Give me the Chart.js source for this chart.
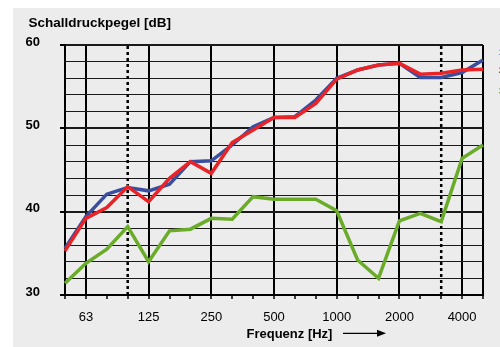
<!DOCTYPE html>
<html>
<head>
<meta charset="utf-8">
<script src="https://cdn.jsdelivr.net/npm/chart.js@4"></script>
<style>
  html, body { margin: 0; padding: 0; background: #ffffff; }
  #wrap { width: 500px; height: 347px; position: relative; }
</style>
</head>
<body>
<div id="wrap"><canvas id="c" width="500" height="347"></canvas></div>
<script>
// Third-octave band centre frequencies (Hz)
const freqLabels = ['50','63','80','100','125','160','200','250','315','400','500','630','800','1000','1250','1600','2000','2500','3150','4000','5000'];
// Labelled octave bands on the x axis
const octaveLabels = ['63','125','250','500','1000','2000','4000'];
// Dotted marker lines
const dottedFreqs = ['100','3150'];
// Y-axis labelled values
const yLabelValues = [30, 40, 50, 60];

// Series values (dB)
const seriesBlue  = [35.6,39.4,42.1,42.9,42.5,43.3,46.0,46.1,48.0,50.2,51.3,51.4,53.4,56.0,57.0,57.6,57.8,56.1,56.1,56.7,58.2];
const seriesRed   = [35.3,39.2,40.5,43.0,41.2,44.0,46.0,44.6,48.3,49.8,51.3,51.3,53.0,55.9,57.0,57.6,57.8,56.5,56.6,57.0,57.1];
const seriesGreen = [31.4,33.8,35.5,38.2,34.0,37.7,37.9,39.2,39.1,41.8,41.5,41.5,41.5,40.1,34.2,32.0,38.9,39.8,38.8,46.4,48.0];

// Legend fragments at the right edge (clipped)
const legendNames = ['1','2','3'];

const COL_BLUE = 'rgb(58,78,160)';
const COL_RED = 'rgb(232,36,40)';
const COL_GREEN = 'rgb(106,172,42)';
const FONT = '"Liberation Sans", Arial, sans-serif';

const decor = {
  id: 'decor',
  beforeDraw(chart) {
    const ctx = chart.ctx;
    ctx.save();
    ctx.fillStyle = '#ffffff';
    ctx.fillRect(0, 0, chart.width, chart.height);
    ctx.fillStyle = 'rgb(235,236,235)';
    ctx.fillRect(13, 8, chart.width - 13, chart.height - 8);
    ctx.restore();
  },
  beforeDatasetsDraw(chart) {
    const ctx = chart.ctx;
    const xs = chart.scales.x;
    const area = chart.chartArea;
    ctx.save();
    ctx.strokeStyle = '#000';
    ctx.lineWidth = 2.5;
    ctx.setLineDash([3, 3]);
    dottedFreqs.forEach(f => {
      const idx = freqLabels.indexOf(f);
      const px = xs.getPixelForValue(idx);
      ctx.beginPath();
      ctx.moveTo(px, area.top + 1);
      ctx.lineTo(px, area.bottom);
      ctx.stroke();
    });
    ctx.restore();
  },
  afterDraw(chart) {
    const ctx = chart.ctx;
    ctx.save();
    ctx.fillStyle = '#000';
    ctx.textBaseline = 'alphabetic';
    ctx.textAlign = 'left';
    ctx.font = 'bold 13.5px ' + FONT;
    ctx.fillText('Schalldruckpegel [dB]', 28.5, 27.4);
    ctx.font = 'bold 13px ' + FONT;
    ctx.fillText('Frequenz [Hz]', 246.5, 337.5);
    // arrow
    ctx.strokeStyle = '#000';
    ctx.lineWidth = 1.2;
    ctx.beginPath();
    ctx.moveTo(343, 333.3);
    ctx.lineTo(379, 333.3);
    ctx.stroke();
    ctx.beginPath();
    ctx.moveTo(377, 329.8);
    ctx.lineTo(386, 333.3);
    ctx.lineTo(377, 336.8);
    ctx.closePath();
    ctx.fill();
    // clipped legend fragments
    ctx.font = '9px ' + FONT;
    const cols = [COL_BLUE, COL_RED, COL_GREEN];
    const ys = [55, 73, 94];
    legendNames.forEach((n, i) => {
      ctx.fillStyle = cols[i];
      ctx.fillText(n, 498.5, ys[i]);
    });
    ctx.restore();
  }
};

new Chart(document.getElementById('c'), {
  type: 'line',
  data: {
    labels: freqLabels,
    datasets: [
      { label: '3', data: seriesGreen, borderColor: COL_GREEN, order: 3 },
      { label: '1', data: seriesBlue, borderColor: COL_BLUE, order: 2 },
      { label: '2', data: seriesRed, borderColor: COL_RED, order: 1 }
    ]
  },
  options: {
    responsive: false,
    animation: false,
    devicePixelRatio: 1,
    layout: { padding: { top: 45, right: 17, left: 0, bottom: 0 } },
    elements: {
      line: { borderWidth: 3.5, tension: 0, borderCapStyle: 'butt', borderJoinStyle: 'miter', fill: false },
      point: { radius: 0, hoverRadius: 0 }
    },
    plugins: { legend: { display: false }, tooltip: { enabled: false }, title: { display: false } },
    scales: {
      x: {
        type: 'category',
        offset: false,
        afterFit(scale) { scale.height = 52; },
        border: { display: true, color: '#000', width: 2 },
        grid: {
          offset: false,
          drawTicks: true,
          tickLength: 4,
          tickWidth: 1.5,
          tickColor: '#000',
          color(ctx) {
            const lab = freqLabels[ctx.index];
            if (octaveLabels.includes(lab) || ctx.index === freqLabels.length - 1) return '#000';
            return 'rgba(0,0,0,0)';
          },
          lineWidth(ctx) {
            return 2;
          }
        },
        ticks: {
          autoSkip: false,
          maxRotation: 0,
          minRotation: 0,
          padding: 11,
          color: '#000',
          font: { family: FONT, size: 13 },
          callback(value, index) {
            const lab = freqLabels[index];
            return octaveLabels.includes(lab) ? lab : '';
          }
        }
      },
      y: {
        type: 'linear',
        min: 30,
        max: 60,
        afterFit(scale) { scale.width = 65; },
        border: { display: true, color: '#000', width: 2 },
        grid: {
          drawTicks: true,
          tickLength: 5,
          tickWidth: 2,
          tickColor(ctx) {
            return (ctx.tick && ctx.tick.value % 10 === 0) ? '#000' : 'rgba(0,0,0,0)';
          },
          color: '#1a1a1a',
          lineWidth(ctx) {
            return (ctx.tick && ctx.tick.value % 10 === 0) ? 2 : 1;
          }
        },
        ticks: {
          stepSize: 2,
          padding: 20,
          color: '#000',
          font: { family: FONT, size: 13, weight: 'bold', lineHeight: 0.46 },
          callback(value) {
            return yLabelValues.includes(value) ? [String(value), ''] : '';
          }
        }
      }
    }
  },
  plugins: [decor]
});
</script>
</body>
</html>
